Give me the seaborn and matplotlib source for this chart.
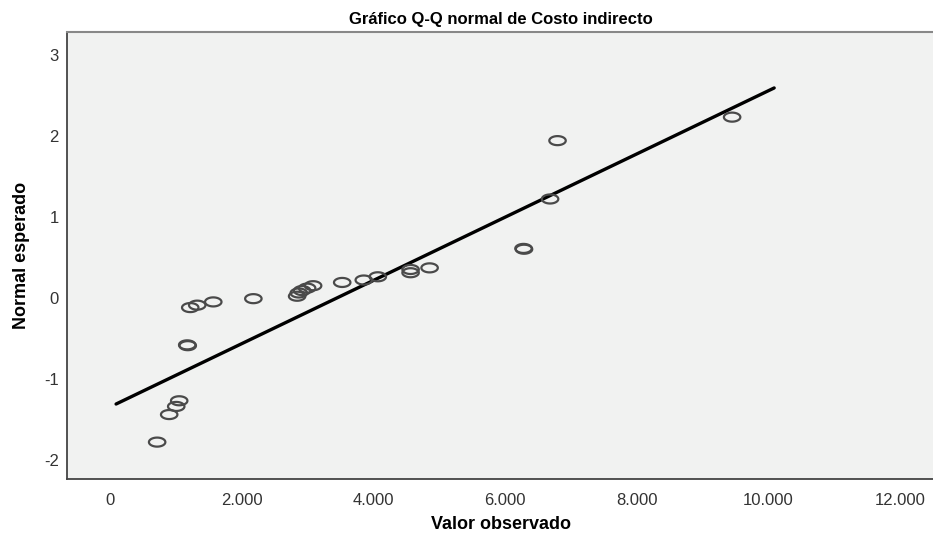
import numpy as np
import pandas as pd
import matplotlib
matplotlib.use("Agg")
import matplotlib.pyplot as plt
from matplotlib.path import Path
import seaborn as sns

observed = [715, 898, 1005, 1050, 1172, 1180, 1218, 1324, 1568, 2177,
            2842, 2867, 2918, 2994, 3085, 3527, 3855, 4068, 4566, 4566,
            4855, 6282, 6290, 6686, 6799, 9452]
expected = [-1.78, -1.44, -1.34, -1.27, -0.58, -0.59, -0.12, -0.09, -0.05, -0.01,
            0.02, 0.06, 0.09, 0.12, 0.15, 0.19, 0.22, 0.26, 0.31, 0.35,
            0.37, 0.61, 0.60, 1.22, 1.94, 2.23]

# Reference line end points
line_x = [91, 10091]
line_y = [-1.31, 2.59]

x_ticks = [0, 2000, 4000, 6000, 8000, 10000, 12000]
x_ticklabels = ["0", "2.000", "4.000", "6.000", "8.000", "10.000", "12.000"]
y_ticks = [-2, -1, 0, 1, 2, 3]
y_ticklabels = ["-2", "-1", "0", "1", "2", "3"]

df = pd.DataFrame({"Valor observado": observed, "Normal esperado": expected})
line_df = pd.DataFrame({"x": line_x, "y": line_y})

sns.set_theme(style="white")
plt.rcParams["font.family"] = ["Liberation Sans", "DejaVu Sans"]
plt.rcParams["axes.unicode_minus"] = False

fig = plt.figure(figsize=(9.33, 5.43), dpi=100)
ax = fig.add_axes([0.0718, 0.1179, 0.93, 0.8231])
ax.set_facecolor("#F1F2F1")

# ellipse marker
t = np.linspace(0, 2 * np.pi, 60)
verts = np.column_stack([np.cos(t), 0.55 * np.sin(t)])
ell = Path(verts, closed=True)

sns.lineplot(data=line_df, x="x", y="y", ax=ax, color="black", linewidth=2.4)
sns.scatterplot(data=df, x="Valor observado", y="Normal esperado", ax=ax,
                marker=ell, s=140, facecolor="none", edgecolor="#4a4a4a",
                linewidth=1.6, zorder=3)

ax.set_xlim(-655, 12530)
ax.set_ylim(-2.235, 3.28)
ax.set_xticks(x_ticks)
ax.set_xticklabels(x_ticklabels)
ax.set_yticks(y_ticks)
ax.set_yticklabels(y_ticklabels)
ax.tick_params(axis="both", length=0, labelsize=12, labelcolor="#333333")
ax.tick_params(axis="x", pad=10)
ax.tick_params(axis="y", pad=6)

for side in ["left", "bottom"]:
    ax.spines[side].set_color("#444444")
    ax.spines[side].set_linewidth(1.3)
ax.spines["top"].set_color("#888888")
ax.spines["top"].set_linewidth(1.5)
ax.spines["right"].set_visible(False)

ax.set_xlabel("Valor observado", fontsize=13, fontweight="bold", labelpad=6,
              color="black")
ax.set_ylabel("Normal esperado", fontsize=13, fontweight="bold", labelpad=10,
              color="black")
ax.set_title("Gráfico Q-Q normal de Costo indirecto", fontsize=12,
             fontweight="bold", pad=6, color="black")

fig.savefig("out.png", dpi=100)
